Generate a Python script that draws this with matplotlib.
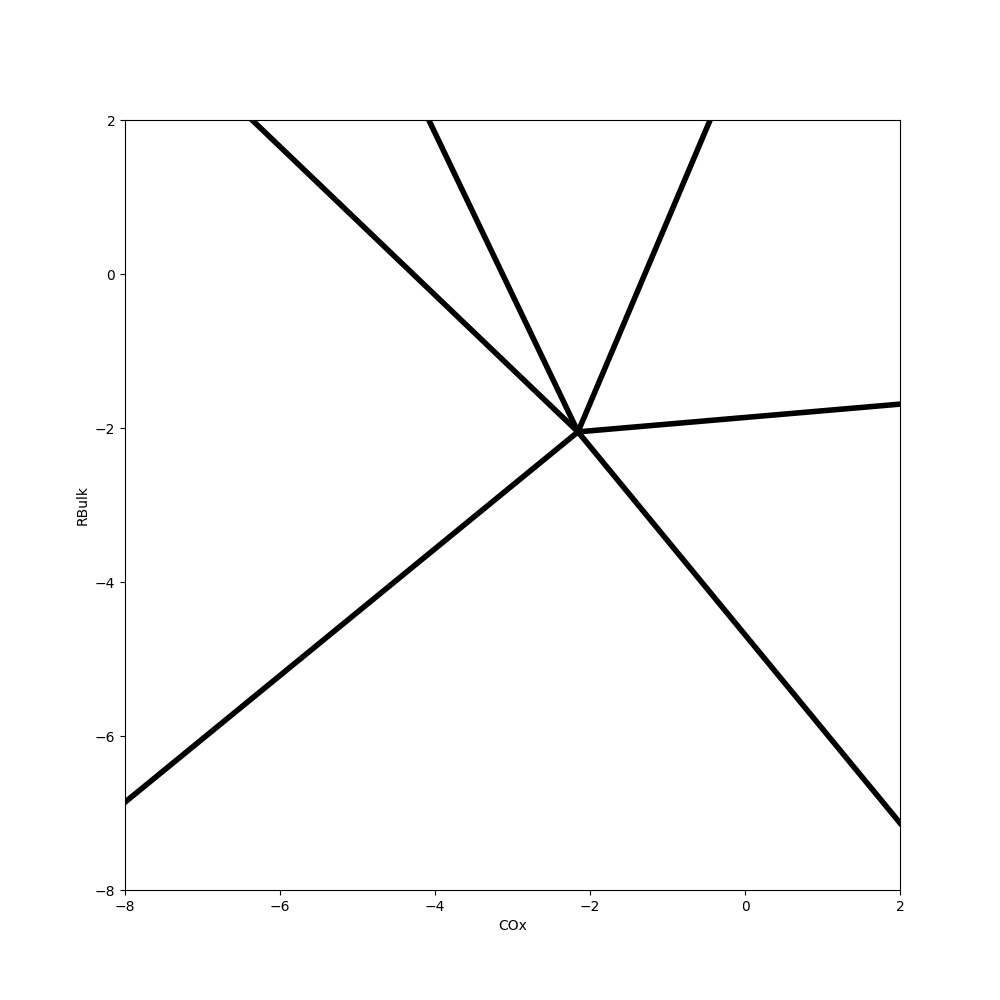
import matplotlib
matplotlib.use("Agg")
import matplotlib.pyplot as plt

# triple point where all boundaries meet
center_x = -2.155
center_y = -2.05

# far ends of each boundary line (clipped by the axes)
end_x = [-6.36, -4.08, -0.45, 2.0, 2.0, -8.0]
end_y = [2.0, 2.0, 2.0, -1.69, -7.13, -6.86]

fig, ax = plt.subplots(figsize=(10, 10), dpi=100)

for ex, ey in zip(end_x, end_y):
    ax.plot([center_x, ex], [center_y, ey], color='black', linewidth=4)

ax.set_xlim([-8, 2])
ax.set_ylim([-8, 2])
ax.set_xlabel('COx')
ax.set_ylabel('RBulk')

fig.savefig('out.png', dpi=100)
